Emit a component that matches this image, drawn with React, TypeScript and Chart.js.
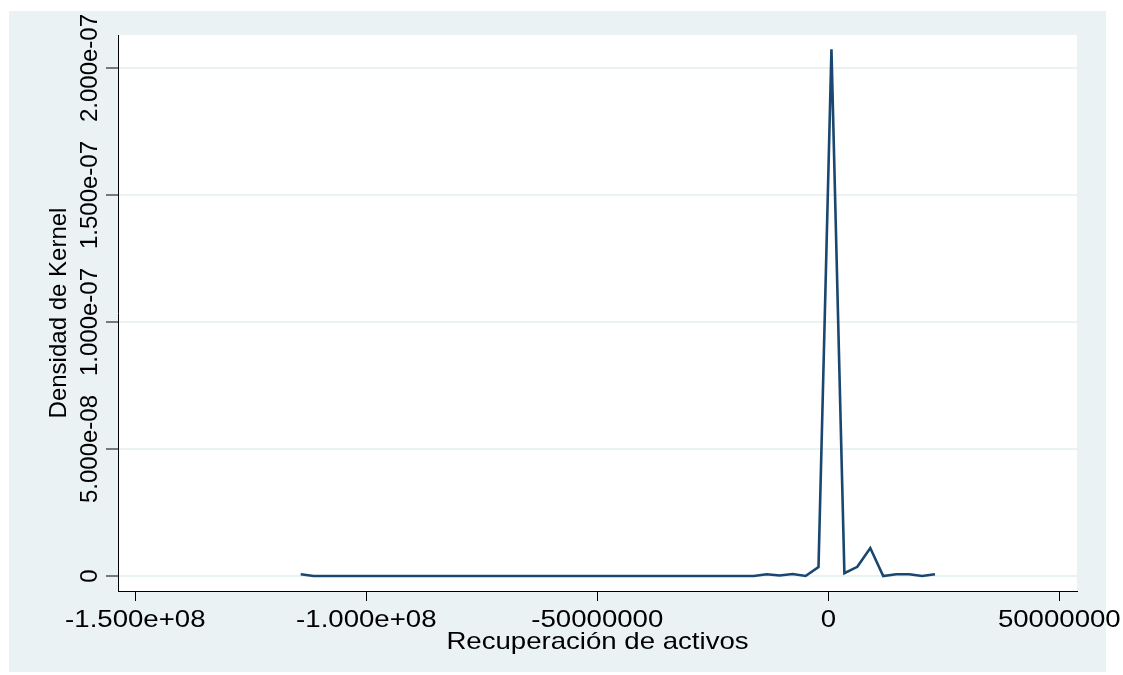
import React, { useEffect, useRef } from "react";
import { Chart, registerables } from "chart.js";

Chart.register(...registerables);

// Evaluation grid of the kernel density (Recuperación de activos)
const xValues = [
  -114200000, -111398000, -108596000, -105794000, -102992000, -100190000,
  -97388000, -94586000, -91784000, -88982000, -86180000, -83378000,
  -80576000, -77774000, -74972000, -72170000, -69368000, -66566000,
  -63764000, -60962000, -58160000, -55358000, -52556000, -49754000,
  -46952000, -44150000, -41348000, -38546000, -35744000, -32942000,
  -30140000, -27338000, -24536000, -21734000, -18932000, -16130000,
  -13328000, -10526000, -7724000, -4922000, -2120000, 682000,
  3484000, 6286000, 9088000, 11890000, 14692000, 17494000,
  20296000, 23098000,
];

// Density values
const densityValues = [
  7e-10, 0, 0, 0, 0, 0,
  0, 0, 0, 0, 0, 0,
  0, 0, 0, 0, 0, 0,
  0, 0, 0, 0, 0, 0,
  0, 0, 0, 0, 0, 0,
  0, 0, 0, 0, 0, 0,
  7e-10, 2e-10, 8e-10, 0, 3.5e-9, 2.074e-7,
  1.1e-9, 3.6e-9, 1.1e-8, 0, 7e-10, 7e-10,
  0, 7e-10,
];

const xTickValues = [-150000000, -100000000, -50000000, 0, 50000000];
const xTickLabels = ["-1.500e+08", "-1.000e+08", "-50000000", "0", "50000000"];
const yTickValues = [0, 5e-8, 1e-7, 1.5e-7, 2e-7];
const yTickLabels = ["0", "5.000e-08", "1.000e-07", "1.500e-07", "2.000e-07"];
const xTitle = "Recuperación de activos";
const yTitle = "Densidad de Kernel";

const LINE_COLOR = "#1a476f";
const BG_COLOR = "#eaf2f3";
const FONT = '24px "Liberation Sans", Arial, Helvetica, sans-serif';

const decorPlugin = {
  id: "decor",
  beforeDraw(chart: any) {
    const { ctx, chartArea: a, width, height } = chart;
    ctx.save();
    ctx.fillStyle = "#ffffff";
    ctx.fillRect(0, 0, width, height);
    ctx.fillStyle = BG_COLOR;
    ctx.fillRect(9, 11, 1097, 661);
    ctx.fillStyle = "#ffffff";
    ctx.fillRect(a.left, a.top, a.right - a.left, a.bottom - a.top);
    ctx.restore();
  },
  afterDraw(chart: any) {
    const { ctx, chartArea: a } = chart;
    const xs = chart.scales.x;
    const ys = chart.scales.y;
    ctx.save();
    ctx.fillStyle = "#000000";
    ctx.font = FONT;
    // x tick labels (horizontally stretched like the reference)
    xTickValues.forEach((v, i) => {
      const px = xs.getPixelForValue(v);
      ctx.save();
      ctx.translate(px, 627);
      ctx.scale(1.15, 1);
      ctx.textAlign = "center";
      ctx.textBaseline = "alphabetic";
      ctx.fillText(xTickLabels[i], 0, 0);
      ctx.restore();
    });
    // x title
    ctx.save();
    ctx.translate((a.left + a.right) / 2, 649);
    ctx.scale(1.15, 1);
    ctx.textAlign = "center";
    ctx.textBaseline = "alphabetic";
    ctx.fillText(xTitle, 0, 0);
    ctx.restore();
    // y tick labels (rotated)
    yTickValues.forEach((v, i) => {
      const py = ys.getPixelForValue(v);
      ctx.save();
      ctx.translate(97, py);
      ctx.rotate(-Math.PI / 2);
      ctx.textAlign = "center";
      ctx.textBaseline = "alphabetic";
      ctx.fillText(yTickLabels[i], 0, 0);
      ctx.restore();
    });
    // y title
    ctx.save();
    ctx.translate(66, (a.top + a.bottom) / 2);
    ctx.rotate(-Math.PI / 2);
    ctx.textAlign = "center";
    ctx.textBaseline = "alphabetic";
    ctx.fillText(yTitle, 0, 0);
    ctx.restore();
    ctx.restore();
  },
};

export default function App() {
  const canvasRef = useRef<HTMLCanvasElement | null>(null);

  useEffect(() => {
    const canvas = canvasRef.current;
    if (!canvas) return;
    const data = xValues.map((x, i) => ({ x, y: densityValues[i] }));
    const chart = new Chart(canvas, {
      type: "line",
      data: {
        datasets: [
          {
            data,
            borderColor: LINE_COLOR,
            borderWidth: 2.6,
            pointRadius: 0,
            tension: 0,
            fill: false,
            borderJoinStyle: "miter",
          },
        ],
      },
      options: {
        animation: false,
        responsive: false,
        devicePixelRatio: 1,
        layout: { padding: { top: 35, right: 46, left: 0, bottom: 0 } },
        plugins: {
          legend: { display: false },
          tooltip: { enabled: false },
          title: { display: false },
        },
        scales: {
          x: {
            type: "linear",
            min: -153745000,
            max: 53831000,
            afterBuildTicks: (s: any) => {
              s.ticks = xTickValues.map((v) => ({ value: v }));
            },
            afterFit: (s: any) => {
              s.height = 84;
            },
            ticks: { display: false },
            grid: {
              drawOnChartArea: false,
              drawTicks: true,
              tickLength: 10,
              tickColor: "#000000",
              tickWidth: 1,
            },
            border: { display: true, color: "#000000", width: 1 },
          },
          y: {
            type: "linear",
            min: -5.906e-9,
            max: 2.1299e-7,
            afterBuildTicks: (s: any) => {
              s.ticks = yTickValues.map((v) => ({ value: v }));
            },
            afterFit: (s: any) => {
              s.width = 118;
            },
            ticks: { display: false },
            grid: {
              color: BG_COLOR,
              lineWidth: 2,
              drawTicks: true,
              tickLength: 12,
              tickColor: "#000000",
              tickWidth: 1,
            },
            border: { display: true, color: "#000000", width: 1 },
          },
        },
      },
      plugins: [decorPlugin],
    });
    return () => chart.destroy();
  }, []);

  return (
    <div style={{ position: "absolute", left: 0, top: 0, width: 1123, height: 675 }}>
      <canvas
        ref={canvasRef}
        width={1123}
        height={675}
        style={{ display: "block", width: 1123, height: 675 }}
      />
    </div>
  );
}
